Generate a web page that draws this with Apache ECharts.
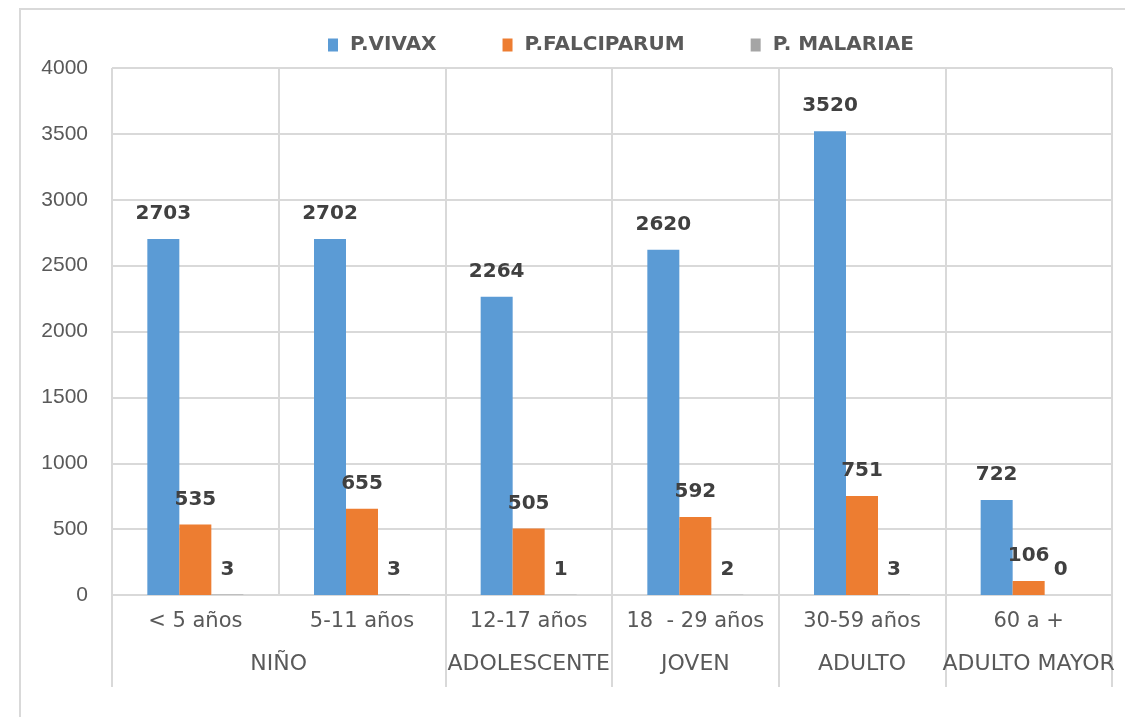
<!DOCTYPE html>
<html>
<head>
<meta charset="utf-8">
<script src="https://cdn.jsdelivr.net/npm/echarts@6/dist/echarts.min.js"></script>
<style>
    html, body { margin: 0; padding: 0; background: #fff; }
    #chart { width: 1125px; height: 717px; }
</style>
</head>
<body>
<div id="chart"></div>
<script>
const ageGroups = ["< 5 años", "5-11 años", "12-17 años", "18  - 29 años", "30-59 años", "60 a +"];
// second level labels, on a 13 slot axis (slot 2 = boundary between first two ages)
const lifeStages = ["", "", "NIÑO", "", "", "ADOLESCENTE", "", "JOVEN", "", "ADULTO", "", "ADULTO MAYOR", ""];
const stageBoundaries = [0, 4, 6, 8, 10, 12];

const vivax = [2703, 2702, 2264, 2620, 3520, 722];
const falciparum = [535, 655, 505, 592, 751, 106];
const malariae = [3, 3, 1, 2, 3, 0];

const yTicks = { min: 0, max: 4000, interval: 500 };

const GRID_COLOR = '#d9d9d9';
const TEXT_COLOR = '#595959';

var barLabel = {
    show: true,
    position: 'top',
    distance: 15,
    color: '#404040',
    fontFamily: 'DejaVu Sans',
    fontWeight: 'bold',
    fontSize: 20
};

var makeSeries = (name, values, color) => {
    return {
        name: name,
        type: 'bar',
        data: values,
        barWidth: 32,
        barGap: '0%',
        itemStyle: { color: color },
        label: barLabel
    };
};

const chartOptions = {
    backgroundColor: '#fff',
    animation: false,
    graphic: [
        {
            type: 'rect',
            shape: { x: 20, y: 9, width: 1300, height: 900 },
            style: { fill: 'none', stroke: GRID_COLOR, lineWidth: 2 }
        }
    ],
    legend: {
        top: 30,
        left: 323,
        itemWidth: 10,
        itemHeight: 13,
        itemGap: 66,
        icon: 'rect',
        textStyle: {
            color: TEXT_COLOR,
            fontFamily: 'DejaVu Sans',
            fontWeight: 'bold',
            fontSize: 20,
            padding: [0, 0, 0, 7]
        }
    },
    grid: {
        left: 112,
        right: 13,
        top: 68,
        bottom: 122,
        containLabel: false
    },
    xAxis: [
        {
            type: 'category',
            data: ageGroups,
            position: 'bottom',
            axisLine: { show: true, lineStyle: { color: GRID_COLOR, width: 2 } },
            axisTick: { show: false },
            splitLine: { show: true, interval: 0, lineStyle: { color: GRID_COLOR, width: 2 } },
            axisLabel: {
                interval: 0,
                margin: 16,
                color: TEXT_COLOR,
                fontFamily: 'DejaVu Sans',
                fontSize: 21
            }
        },
        {
            type: 'category',
            data: lifeStages,
            position: 'bottom',
            boundaryGap: false,
            axisLine: { show: false },
            axisTick: {
                show: true,
                length: 92,
                interval: (index) => stageBoundaries.includes(index),
                lineStyle: { color: GRID_COLOR, width: 2 }
            },
            splitLine: { show: false },
            axisLabel: {
                interval: 0,
                margin: 58,
                color: TEXT_COLOR,
                fontFamily: 'DejaVu Sans',
                fontSize: 22
            }
        }
    ],
    yAxis: {
        type: 'value',
        min: yTicks.min,
        max: yTicks.max,
        interval: yTicks.interval,
        axisLine: { show: false },
        axisTick: { show: false },
        splitLine: { lineStyle: { color: GRID_COLOR, width: 2 } },
        axisLabel: {
            margin: 24,
            color: TEXT_COLOR,
            fontFamily: 'Liberation Sans',
            fontSize: 21,
            formatter: (value) => String(value)
        }
    },
    series: [
        makeSeries('P.VIVAX', vivax, '#5B9BD5'),
        makeSeries('P.FALCIPARUM', falciparum, '#ED7D31'),
        makeSeries('P. MALARIAE', malariae, '#A5A5A5')
    ]
};

var chart = echarts.init(document.getElementById('chart'));
chart.setOption(chartOptions);
</script>
</body>
</html>
